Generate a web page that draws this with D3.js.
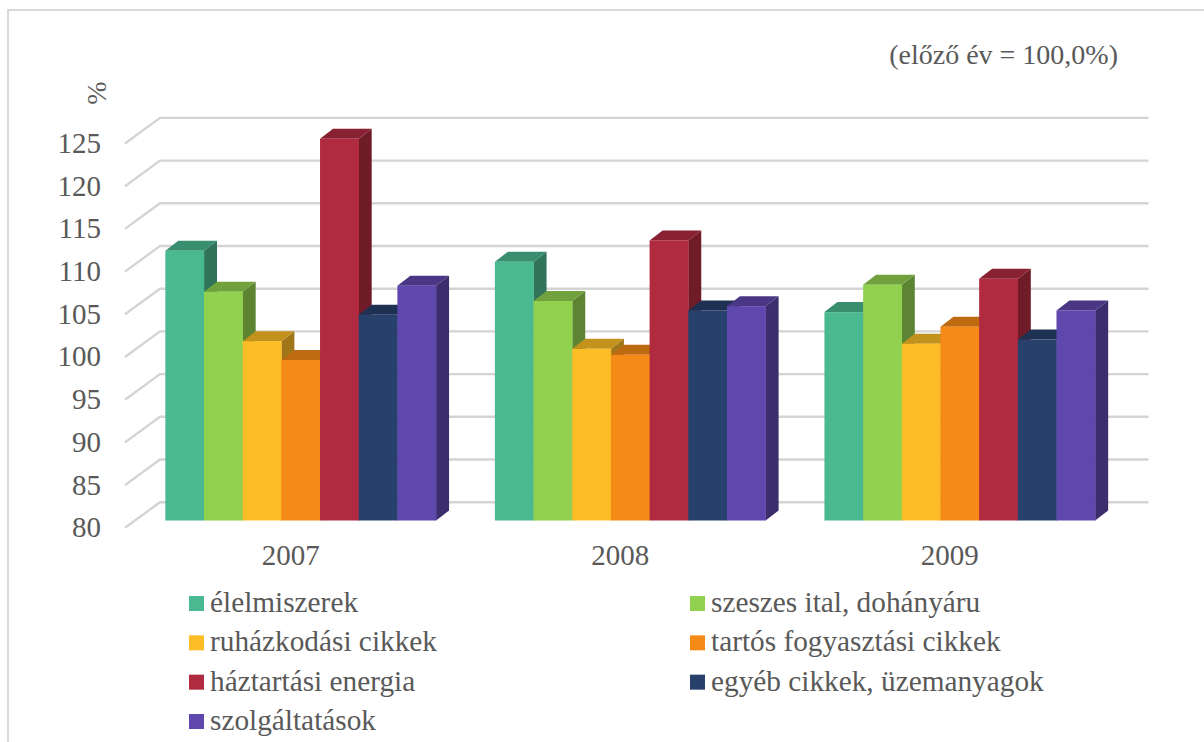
<!DOCTYPE html>
<html><head><meta charset="utf-8">
<script src="https://cdn.jsdelivr.net/npm/d3@7/dist/d3.min.js"></script>
<style>html,body{margin:0;padding:0;background:#fff}svg{display:block}text{font-family:"Liberation Serif",serif;fill:#595959}</style>
</head><body><svg id="c" width="1204" height="742"></svg>
<script>
const years = ["2007","2008","2009"];
const seriesNames = ["élelmiszerek","szeszes ital, dohányáru","ruházkodási cikkek","tartós fogyasztási cikkek","háztartási energia","egyéb cikkek, üzemanyagok","szolgáltatások"];
const seriesColors = ["#4ab890","#92d14f","#fdbd26","#f68a16","#b12b40","#28406c","#5f48ad"];
const values2007 = [111.6,106.8,101.0,98.8,124.7,104.1,107.5];
const values2008 = [110.3,105.7,100.1,99.4,112.8,104.6,105.1];
const values2009 = [104.4,107.6,100.7,102.7,108.3,101.2,104.6];
const valuesByYear = [values2007,values2008,values2009];
const yTicks = [80,85,90,95,100,105,110,115,120,125];
const noteText = "(előző év = 100,0%)";
const unitText = "%";

const svg = d3.select("#c");
const y = d3.scaleLinear().domain([80,125]).range([520.5,136.2]);
const x0 = d3.scaleBand().domain(years).range([136,1124.5]).paddingInner(0.1785).paddingOuter(0.089);
const x1 = d3.scaleBand().domain(seriesNames).range([0,x0.bandwidth()]);
const barDx = 13, barDy = -10;
const gridBack = -18.3, wallLeft = 160, floorLeft = 125, wallRight = 1148.5, floorDy = 25.6;

svg.append("rect").attr("x",8).attr("y",10).attr("width",1300).attr("height",900)
  .attr("fill","#fff").attr("stroke","#d9d9d9").attr("stroke-width",2);

const grid = svg.append("g").attr("fill","none").attr("stroke","#d4d4d4").attr("stroke-width",2.4);
grid.selectAll("path").data(yTicks).join("path")
  .attr("d",v=>{const b=y(v)+gridBack;return `M${floorLeft},${b+floorDy}L${wallLeft},${b}L${wallRight},${b}`;});

const groups = svg.selectAll("g.yr").data(years).join("g").attr("class","yr")
  .attr("transform",d=>`translate(${x0(d)},0)`);
groups.each(function(yr,i){
  const g = d3.select(this);
  const w = x1.bandwidth();
  seriesNames.forEach((name,k)=>{
    const v = valuesByYear[i][k], X = x1(name), T = y(v), B = y(80), c = seriesColors[k];
    const rgb = d3.rgb(c), sh = f => d3.rgb(rgb.r*f,rgb.g*f,rgb.b*f).formatHex();
    g.append("path").attr("fill",sh(0.63))
      .attr("d",`M${X+w},${T}L${X+w+barDx},${T+barDy}L${X+w+barDx},${B+barDy}L${X+w},${B}Z`);
    g.append("path").attr("fill",sh(0.77))
      .attr("d",`M${X},${T}L${X+barDx},${T+barDy}L${X+w+barDx},${T+barDy}L${X+w},${T}Z`);
    g.append("rect").attr("x",X).attr("y",T).attr("width",w+0.3).attr("height",B-T).attr("fill",c);
  });
});

const yAxis = d3.axisLeft(y).tickValues(yTicks).tickSize(0).tickPadding(0);
svg.append("g").attr("transform",`translate(101,7)`).call(yAxis)
  .call(g=>g.select(".domain").remove())
  .selectAll("text").style("font-family",'"Liberation Serif",serif').style("font-size","29px").attr("fill","#595959");

const xAxis = d3.axisBottom(x0).tickSize(0).tickPadding(0);
svg.append("g").attr("transform",`translate(-10,544)`).call(xAxis)
  .call(g=>g.select(".domain").remove())
  .selectAll("text").style("font-family",'"Liberation Serif",serif').style("font-size","29px").attr("fill","#595959");

svg.append("text").attr("x",1118).attr("y",64).attr("text-anchor","end").style("font-size","28px").text(noteText);
svg.append("text").attr("transform","translate(106,93) rotate(-90)").attr("text-anchor","middle").style("font-size","28px").text(unitText);

const legX = d3.scaleOrdinal().domain([0,1]).range([189,690]);
const legY = d3.scaleLinear().domain([0,3]).range([596,714]);
const leg = svg.selectAll("g.leg").data(seriesNames).join("g").attr("class","leg")
  .attr("transform",(d,i)=>`translate(${legX(i%2)},${legY(Math.floor(i/2))})`);
leg.append("rect").attr("width",15).attr("height",15).attr("fill",(d,i)=>seriesColors[i]);
leg.append("text").attr("x",21).attr("y",16).style("font-size","29.3px").text(d=>d);
</script></body></html>
